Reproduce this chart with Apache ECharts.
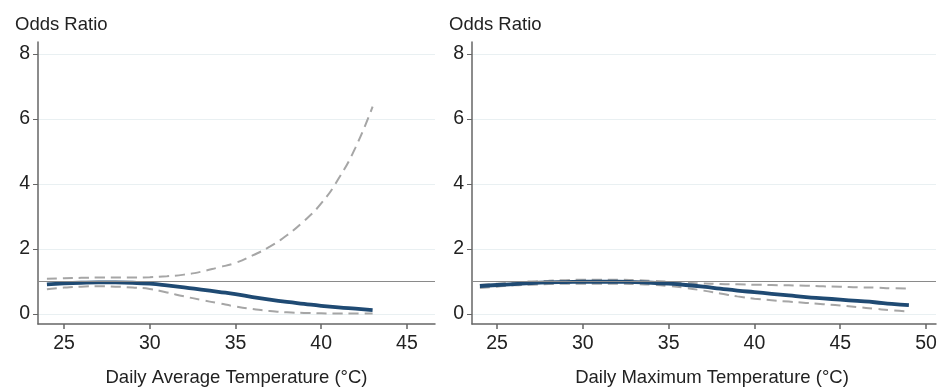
<!DOCTYPE html>
<html>
<head>
<meta charset="utf-8">
<script src="https://cdn.jsdelivr.net/npm/echarts@6/dist/echarts.min.js"></script>
<style>
  html, body { margin: 0; padding: 0; background: #fff; }
  #chart { width: 940px; height: 392px; }
</style>
</head>
<body>
<div id="chart"></div>
<script>
// daily average temperature panel
const avgTemp = [24, 25, 26, 27, 28, 29, 30, 31, 32, 33, 34, 35, 36, 37, 38, 39, 40, 41, 42, 43];
const avgOR = [0.91, 0.94, 0.96, 0.97, 0.97, 0.96, 0.93, 0.88, 0.82, 0.75, 0.68, 0.61, 0.52, 0.44, 0.37, 0.31, 0.25, 0.20, 0.16, 0.12];
const avgUpper = [1.08, 1.10, 1.11, 1.12, 1.12, 1.12, 1.13, 1.16, 1.21, 1.30, 1.43, 1.57, 1.80, 2.07, 2.42, 2.86, 3.40, 4.15, 5.12, 6.38];
const avgLower = [0.76, 0.81, 0.84, 0.85, 0.84, 0.81, 0.77, 0.66, 0.54, 0.43, 0.33, 0.23, 0.15, 0.09, 0.05, 0.03, 0.02, 0.01, 0.01, 0.01];

// daily maximum temperature panel
const maxTemp = [24, 25, 26, 27, 28, 29, 30, 31, 32, 33, 34, 35, 36, 37, 38, 39, 40, 41, 42, 43, 44, 45, 46, 47, 48, 49];
const maxOR = [0.86, 0.89, 0.92, 0.95, 0.97, 0.98, 0.99, 0.99, 0.99, 0.98, 0.96, 0.93, 0.89, 0.84, 0.78, 0.72, 0.67, 0.62, 0.57, 0.52, 0.48, 0.44, 0.40, 0.36, 0.31, 0.27];
const maxUpper = [0.89, 0.93, 0.97, 1.00, 1.02, 1.04, 1.05, 1.05, 1.05, 1.04, 1.02, 0.99, 0.96, 0.94, 0.92, 0.91, 0.90, 0.89, 0.88, 0.87, 0.85, 0.84, 0.82, 0.81, 0.79, 0.78];
const maxLower = [0.80, 0.84, 0.88, 0.90, 0.92, 0.93, 0.93, 0.93, 0.93, 0.92, 0.90, 0.86, 0.80, 0.72, 0.63, 0.54, 0.47, 0.42, 0.38, 0.34, 0.30, 0.26, 0.21, 0.16, 0.11, 0.08];

const yTicks = [0, 2, 4, 6, 8];
const avgXTicks = [25, 30, 35, 40, 45];
const maxXTicks = [25, 30, 35, 40, 45, 50];

const FONT = "Liberation Sans";
const pairs = (xs, ys) => xs.map((x, i) => [x, ys[i]]);

function xAxis(idx, min, max, ticks, name, pad) {
  return {
    type: "value", gridIndex: idx, min: min, max: max,
    name: name, nameLocation: "middle", nameGap: 44,
    nameTextStyle: { fontFamily: FONT, fontSize: 18.5, color: "#222", padding: pad },
    axisLine: { show: true, onZero: false, lineStyle: { color: "#666", width: 1.5 } },
    axisTick: { show: true, length: 5, customValues: ticks, lineStyle: { color: "#666", width: 1.5 } },
    axisLabel: { customValues: ticks, margin: 10, fontFamily: FONT, fontSize: 19.5, color: "#222" },
    splitLine: { show: false }
  };
}

function yAxis(idx) {
  return {
    type: "value", gridIndex: idx, min: -0.31, max: 8.37,
    axisLine: { show: true, lineStyle: { color: "#666", width: 1.5 } },
    axisTick: { show: true, length: 5, customValues: yTicks, lineStyle: { color: "#666", width: 1 } },
    axisLabel: { customValues: yTicks, margin: 8, fontFamily: FONT, fontSize: 19.5, color: "#222" },
    splitLine: { show: true, lineStyle: { color: "#e9f0f2", width: 1 } }
  };
}

function ciLine(idx, data) {
  return {
    type: "line", xAxisIndex: idx, yAxisIndex: idx, data: data,
    smooth: true, showSymbol: false, silent: true,
    lineStyle: { color: "#a6a6a6", width: 2, type: [10, 6] }
  };
}

function estLine(idx, data) {
  return {
    type: "line", xAxisIndex: idx, yAxisIndex: idx, data: data,
    smooth: true, showSymbol: false, silent: true,
    lineStyle: { color: "#1f4a73", width: 3.8 },
    markLine: {
      silent: true, symbol: "none", label: { show: false },
      lineStyle: { color: "#8a8a8a", type: "solid", width: 1 },
      data: [{ yAxis: 1 }]
    }
  };
}

const chart = echarts.init(document.getElementById("chart"), null, { renderer: "canvas" });
chart.setOption({
  animation: false,
  backgroundColor: "#fff",
  title: [
    { text: "Odds Ratio", left: 10, top: 10, textStyle: { fontFamily: FONT, fontSize: 18.5, fontWeight: "normal", color: "#222" } },
    { text: "Odds Ratio", left: 444, top: 10, textStyle: { fontFamily: FONT, fontSize: 18.5, fontWeight: "normal", color: "#222" } }
  ],
  grid: [
    { left: 38, width: 397, top: 42, bottom: 68 },
    { left: 472, right: 4, top: 42, bottom: 68 }
  ],
  xAxis: [
    xAxis(0, 23.48, 46.64, avgXTicks, "Daily Average Temperature (°C)", [0, 0, 0, 0]),
    xAxis(1, 23.54, 50.58, maxXTicks, "Daily Maximum Temperature (°C)", [0, 0, 0, 16])
  ],
  yAxis: [yAxis(0), yAxis(1)],
  series: [
    ciLine(0, pairs(avgTemp, avgUpper)),
    ciLine(0, pairs(avgTemp, avgLower)),
    estLine(0, pairs(avgTemp, avgOR)),
    ciLine(1, pairs(maxTemp, maxUpper)),
    ciLine(1, pairs(maxTemp, maxLower)),
    estLine(1, pairs(maxTemp, maxOR))
  ]
});
</script>
</body>
</html>
